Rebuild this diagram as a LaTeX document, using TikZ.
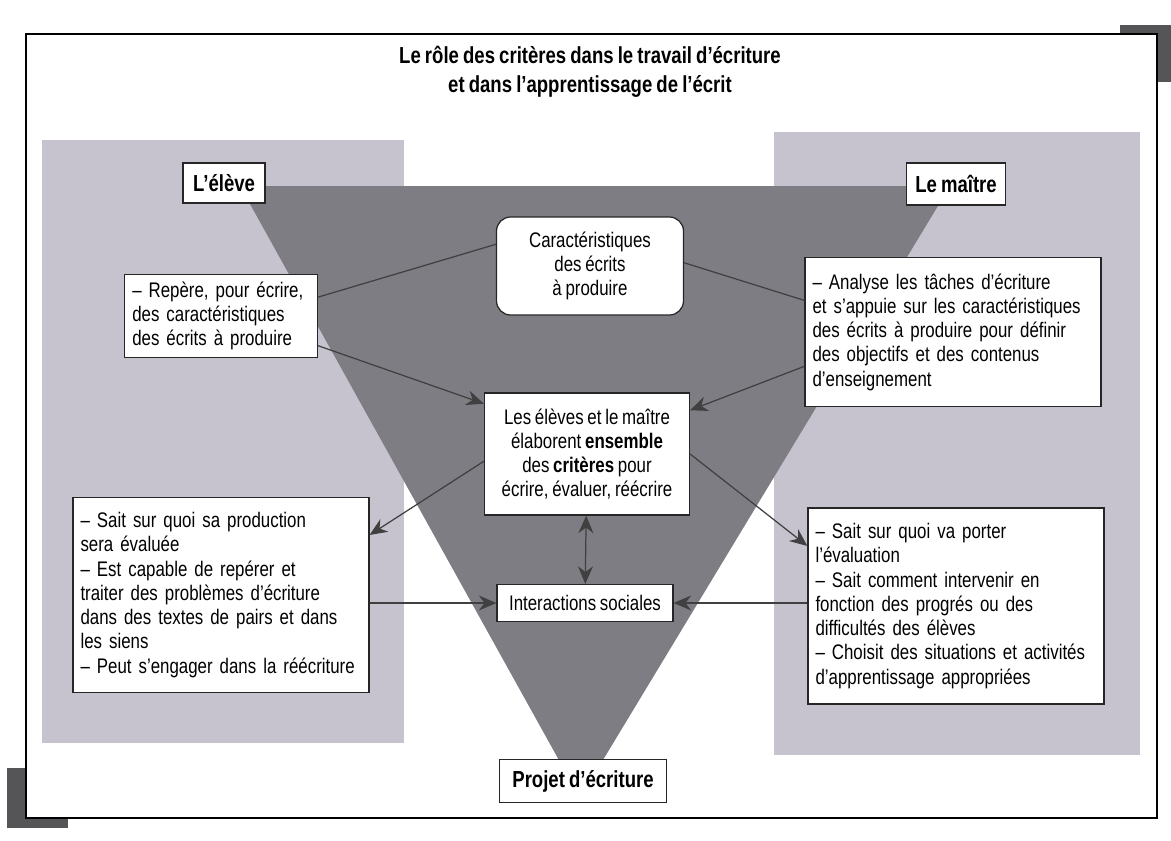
\documentclass[tikz,border=0pt]{standalone}
\usepackage{fontspec}
\setmainfont{Liberation Sans}[FakeStretch=0.8, WordSpace=0.8]
\usetikzlibrary{arrows.meta,positioning,calc}

\definecolor{panneau}{RGB}{198,195,207}
\definecolor{triangle}{RGB}{126,125,131}
\definecolor{coin}{RGB}{85,85,88}

\begin{document}
\begin{tikzpicture}[x=0.02cm, y=-0.02cm,
    boite/.style={draw=black!85, fill=white, line width=0.7pt, inner xsep=0.15cm, inner ysep=3pt, font=\fontsize{12}{13.8}\selectfont},
    liste/.style={boite, align=left},
    etiq/.style={boite, font=\fontsize{13.2}{15}\selectfont\bfseries, inner xsep=4pt},
    fleche/.style={-{Stealth[length=10pt, width=8.5pt]}, line width=0.7pt, draw=black!75, fill=black!75},
    fleches/.style={{Stealth[length=10pt, width=8.5pt]}-{Stealth[length=10pt, width=8.5pt]}, line width=0.7pt, draw=black!75, fill=black!75},
    lien/.style={line width=0.7pt, draw=black!75}
]
\useasboundingbox (0,0) rectangle (1171,840);
% cadre et ombres
\fill[coin] (1120,25) rectangle (1171,82);
\fill[coin] (7,768) rectangle (68,828);
\draw[fill=white, line width=0.8pt] (26,34) rectangle (1157,818);
% panneaux et triangle
\fill[panneau] (42,140) rectangle (404,743);
\fill[panneau] (774,132) rectangle (1140,755);
\fill[triangle] (240,186) -- (950,186) -- (580,798) -- cycle;

\node[font=\fontsize{13.2}{16.5}\selectfont\bfseries, align=center] (titre) at (590,72) {Le rôle des critères dans le travail d’écriture\\et dans l’apprentissage de l’écrit};

\node[etiq, minimum width=1.64cm, minimum height=0.8cm] (eleve) at (224,183) {L’élève};
\node[etiq, minimum width=1.98cm, minimum height=0.84cm] (maitre) at (956,184) {Le maître};
\node[boite, rounded corners=8pt, align=center, minimum width=3.74cm, minimum height=1.96cm] (carac) at (590,266) {Caractéristiques\\des écrits\\à produire};
\node[liste, text width=3.55cm, minimum height=1.66cm] (repere) at (221,316) {– Repère, pour écrire,\\des caractéristiques\\des écrits à produire};
\node[liste, text width=5.62cm, minimum height=2.98cm] (analyse) at (953,332) {– Analyse les tâches d'écriture\\et s'appuie sur les caractéristiques\\des écrits à produire pour définir\\des objectifs et des contenus\\d'enseignement};
\node[boite, align=center, minimum width=4.1cm, minimum height=2.44cm] (ensemble) at (587,454) {Les élèves et le maître\\élaborent \textbf{ensemble}\\des \textbf{critères} pour\\écrire, évaluer, réécrire};
\node[boite, minimum width=3.52cm, minimum height=0.74cm] (inter) at (585,603) {Interactions sociales};
\node[liste, text width=5.62cm, minimum height=3.9cm] (eleveeval) at (221,595) {– Sait sur quoi sa production\\sera évaluée\\– Est capable de repérer et\\traiter des problèmes d'écriture\\dans des textes de pairs et dans\\les siens\\– Peut s'engager dans la réécriture};
\node[liste, text width=5.62cm, minimum height=3.92cm] (maitreeval) at (956,606) {– Sait sur quoi va porter\\l'évaluation\\– Sait comment intervenir en\\fonction des progrés ou des\\difficultés des élèves\\– Choisit des situations et activités\\d'apprentissage appropriées};
\node[etiq, minimum width=3.34cm, minimum height=0.86cm] (projet) at (583,781) {Projet d’écriture};

\draw[lien] (repere.11) -- (carac.167);
\draw[lien] (carac.2) -- (analyse.168);
\draw[fleche] (repere.-17) -- (ensemble.154);
\draw[fleche] (analyse.193) -- (ensemble.23);
\draw[fleche] (ensemble.184) -- (eleveeval.22);
\draw[fleche] (ensemble.east) -- (maitreeval.158);
\draw[fleches] (ensemble) -- (inter);
\draw[fleche] (eleveeval.east |- inter.west) -- (inter.west);
\draw[fleche] (maitreeval.west |- inter.east) -- (inter.east);
\end{tikzpicture}
\end{document}
